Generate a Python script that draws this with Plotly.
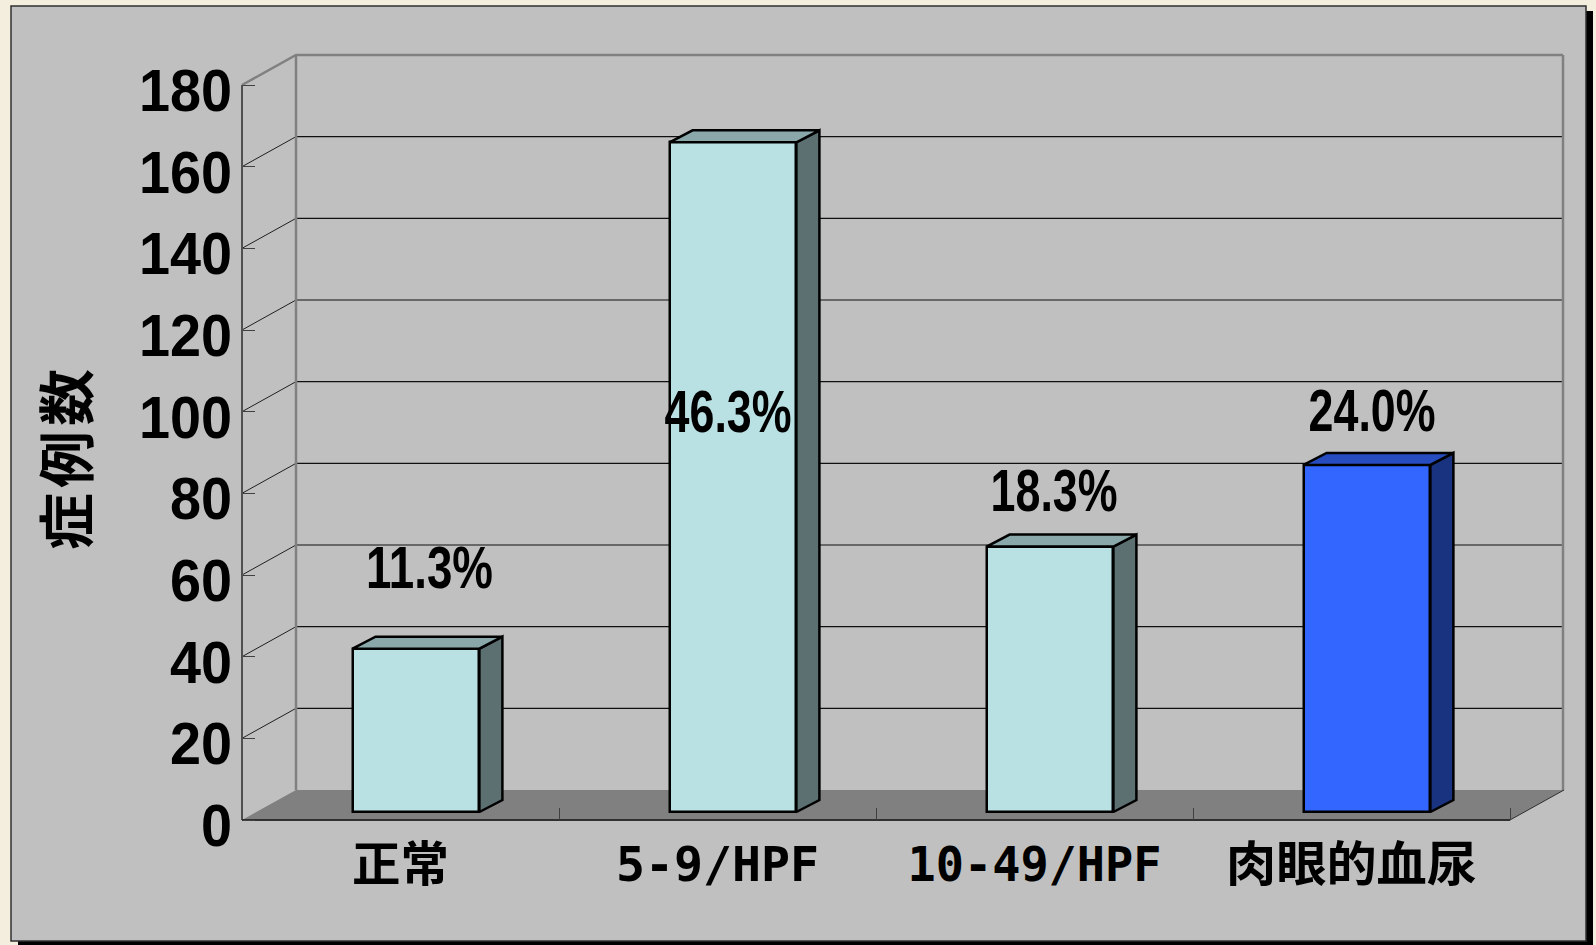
import plotly.graph_objects as go

# --- data ---
CATEGORIES = ["正常", "5-9/HPF", "10-49/HPF", "肉眼的血尿"]
CASES = [40, 164, 65, 85]
PERCENT_LABELS = ["11.3%", "46.3%", "18.3%", "24.0%"]
Y_TICKS = [0, 20, 40, 60, 80, 100, 120, 140, 160, 180]
Y_TITLE = "症例数"

# --- annotation anchors (category units, value units) ---
LABEL_X = [0.093, 1.033, 2.06, 3.065]
LABEL_Y = [61.75, 100, 80.8, 100.2]

# --- colours ---
FRONT = ["#B9E0E3", "#B9E0E3", "#B9E0E3", "#3366FF"]
SIDE = ["#5C7071", "#5C7071", "#5C7071", "#1A3380"]
TOP = ["#8AA8AA", "#8AA8AA", "#8AA8AA", "#264CBF"]

# --- geometry ---
W, H = 1596, 945
L, R, T, B = 242, 1563, 56, 820
PAD = 5
PX_CAT, PX_VAL = 317.0, 735 / 180
DEPTH_X, DEPTH_Y = 54 / PX_CAT, 30 / PX_VAL
BAR_OFF_X, BAR_OFF_Y = 15.5 / PX_CAT, 8 / PX_VAL
BAR_DX, BAR_DY = 23 / PX_CAT, 12 / PX_VAL
BAR_W = 0.4
X0 = -0.5
X1 = 3.5
XMAX = X0 + (R - L) / PX_CAT
YMAX = (B - T) / PX_VAL
PL, PR, PT, PB = L - PAD, R + PAD, T - PAD, B + PAD


def px(x):
    return (x - PL) / (PR - PL)


def py(y):
    return (PB - y) / (PB - PT)


def rect(x0, y0, x1, y1, **kw):
    return dict(type="rect", xref="paper", yref="paper", x0=px(x0), x1=px(x1),
                y0=py(y0), y1=py(y1), layer="below", **kw)


shapes = [
    rect(18, 11, 1593, 960, fillcolor="#000000", line=dict(width=0)),
    rect(11, 6, 1586, 941, fillcolor="#C0C0C0", line=dict(color="#303030", width=1.5)),
    dict(type="path", layer="below", xref="x", yref="y", fillcolor="#808080",
         line=dict(width=0),
         path=f"M{X0},0 L{X1},0 L{X1 + DEPTH_X},{DEPTH_Y} L{X0 + DEPTH_X},{DEPTH_Y} Z"),
]
for v in Y_TICKS[1:-1]:
    shapes.append(dict(type="line", layer="below", xref="x", yref="y",
                       x0=X0, y0=v, x1=X0 + DEPTH_X, y1=v + DEPTH_Y,
                       line=dict(color="#202020", width=1)))
    shapes.append(dict(type="line", layer="below", xref="x", yref="y",
                       x0=X0 + DEPTH_X, y0=v + DEPTH_Y, x1=XMAX, y1=v + DEPTH_Y,
                       line=dict(color="#101010", width=1.2)))

fig = go.Figure()

fig.add_trace(go.Bar(
    x=[i + BAR_OFF_X for i in range(len(CASES))],
    y=CASES, base=BAR_OFF_Y, width=BAR_W,
    marker=dict(color=FRONT, line=dict(color="#000000", width=2.5)),
    showlegend=False, hoverinfo="skip"))

for i, v in enumerate(CASES):
    xl = i + BAR_OFF_X - BAR_W / 2
    xr = i + BAR_OFF_X + BAR_W / 2
    yb = BAR_OFF_Y
    yt = BAR_OFF_Y + v
    fig.add_trace(go.Scatter(
        x=[xr, xr + BAR_DX, xr + BAR_DX, xr, xr],
        y=[yb, yb + BAR_DY, yt + BAR_DY, yt, yb],
        mode="lines", fill="toself", fillcolor=SIDE[i],
        line=dict(color="#000000", width=2.5), showlegend=False, hoverinfo="skip"))
    fig.add_trace(go.Scatter(
        x=[xl, xl + BAR_DX, xr + BAR_DX, xr, xl],
        y=[yt, yt + BAR_DY, yt + BAR_DY, yt, yt],
        mode="lines", fill="toself", fillcolor=TOP[i],
        line=dict(color="#000000", width=2.5), showlegend=False, hoverinfo="skip"))


def frame(xs, ys, color, width):
    fig.add_trace(go.Scatter(x=xs, y=ys, mode="lines",
                             line=dict(color=color, width=width),
                             showlegend=False, hoverinfo="skip"))


y_top = Y_TICKS[-1]
frame([X0 + DEPTH_X, X0 + DEPTH_X], [DEPTH_Y, y_top + DEPTH_Y], "#808080", 2.5)
frame([XMAX, XMAX], [DEPTH_Y, y_top + DEPTH_Y], "#808080", 2.5)
frame([X0, X0 + DEPTH_X, XMAX], [y_top, y_top + DEPTH_Y, y_top + DEPTH_Y], "#808080", 2.5)
frame([X1, X1 + DEPTH_X], [0, DEPTH_Y], "#303030", 1)
frame([X0, X0], [0, y_top], "#505050", 2)
frame([X0, X1], [0, 0], "#303030", 2)

annotations = [
    dict(x=x, y=y, xref="x", yref="y", text=t, showarrow=False,
         font=dict(family="Liberation Sans", size=60, weight=700, color="#000000"))
    for x, y, t in zip(LABEL_X, LABEL_Y, PERCENT_LABELS)
]
annotations.append(dict(
    x=px(63), y=py(457), xref="paper", yref="paper", textangle=-90, showarrow=False,
    xanchor="center", yanchor="middle",
    text=f'<span style="letter-spacing:5px">{Y_TITLE}</span>',
    font=dict(family="Noto Sans CJK JP", size=57, weight=700, color="#000000")))

fig.update_layout(
    width=W, height=H, autosize=False,
    margin=dict(l=PL, r=W - PR, t=PT, b=H - PB, pad=0),
    paper_bgcolor="#F3EEDD", plot_bgcolor="rgba(0,0,0,0)",
    bargap=0, shapes=shapes, annotations=annotations,
    xaxis=dict(range=[X0 - PAD / PX_CAT, XMAX + PAD / PX_CAT],
               anchor="free", position=PAD / (PB - PT),
               tickmode="array", tickvals=list(range(len(CATEGORIES))),
               ticktext=CATEGORIES, showgrid=False, zeroline=False, showline=False,
               ticks="", ticklabelstandoff=12,
               tickfont=dict(family="DejaVu Sans Mono, Noto Sans CJK JP", size=48, weight=700,
                             color="#000000"),
               minor=dict(tickmode="array", tickvals=[0.5, 1.5, 2.5, 3.5], ticks="inside",
                          ticklen=12, tickwidth=1, tickcolor="#404040", showgrid=False)),
    yaxis=dict(range=[-PAD / PX_VAL, YMAX + PAD / PX_VAL],
               anchor="free", position=PAD / (PR - PL),
               tickmode="array", tickvals=Y_TICKS,
               ticktext=[str(v) for v in Y_TICKS], showgrid=False, zeroline=False,
               showline=False, ticks="inside", ticklen=12, tickwidth=1, tickcolor="#404040",
               ticklabelstandoff=10,
               tickfont=dict(family="Liberation Sans", size=60, weight=700, color="#000000")),
)

# The page's default body margin would offset the whole figure; the reference's digits are
# also condensed, and no condensed face is installed, so the real text is fitted to width.
POST = """
document.body.style.margin = '0';
(function () {
  var gd = document.getElementById('{plot_id}');
  function fit() {
    gd.querySelectorAll('.ytick text').forEach(function (t) {
      if (!t.dataset.fitted) {
        t.setAttribute('textLength', t.getComputedTextLength() * 0.93);
        t.setAttribute('lengthAdjust', 'spacingAndGlyphs');
        t.setAttribute('y', parseFloat(t.getAttribute('y') || 0) + 5);
        t.dataset.fitted = '1';
      }
    });
    gd.querySelectorAll('.annotation-text').forEach(function (t) {
      if (t.textContent.indexOf('%') >= 0) {
        t.setAttribute('textLength', 127);
        t.setAttribute('lengthAdjust', 'spacingAndGlyphs');
      }
    });
    var w = [97, 203, 254, 251];
    gd.querySelectorAll('.xtick text').forEach(function (t, i) {
      t.setAttribute('textLength', w[i]);
      t.setAttribute('lengthAdjust', 'spacingAndGlyphs');
    });
  }
  fit();
  gd.on('plotly_afterplot', fit);
})();
"""

fig.write_html("out.html", config={"displayModeBar": False}, post_script=POST)
